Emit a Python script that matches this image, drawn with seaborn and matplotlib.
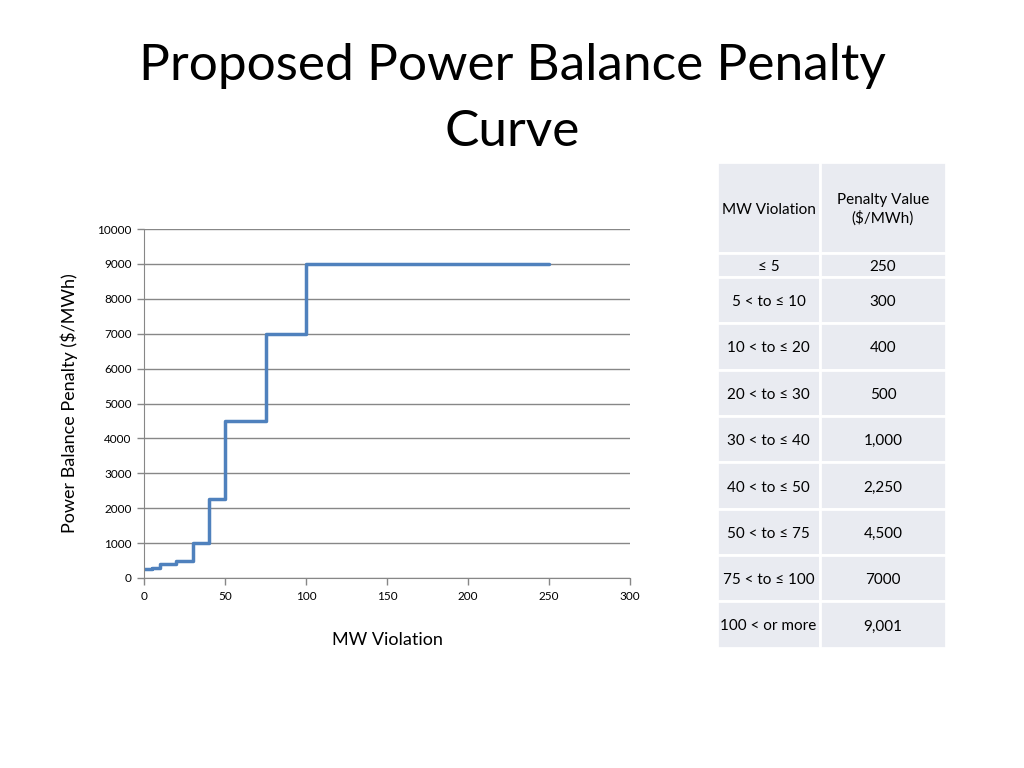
import matplotlib
matplotlib.use("Agg")
import matplotlib.pyplot as plt
import seaborn as sns
import pandas as pd
from matplotlib.patches import Rectangle

# step curve data
mw_points = [0, 5, 10, 20, 30, 40, 50, 75, 100, 250]
penalty_points = [250, 300, 400, 500, 1000, 2250, 4500, 7000, 9000, 9000]

# table contents
table_header = ["MW Violation", "Penalty Value\n($/MWh)"]
table_ranges = ["≤ 5", "5 < to ≤ 10", "10 < to ≤ 20", "20 < to ≤ 30", "30 < to ≤ 40",
                "40 < to ≤ 50", "50 < to ≤ 75", "75 < to ≤ 100", "100 < or more"]
table_values = ["250", "300", "400", "500", "1,000", "2,250", "4,500", "7000", "9,001"]

sns.set_style("white")
plt.rcParams['font.family'] = ['Lato', 'DejaVu Sans']
plt.rcParams['text.color'] = 'black'
plt.rcParams['axes.labelcolor'] = 'black'
plt.rcParams['xtick.color'] = 'black'
plt.rcParams['ytick.color'] = 'black'

df = pd.DataFrame({"mw": mw_points, "penalty": penalty_points})

fig = plt.figure(figsize=(10.24, 7.68), dpi=100)
ax = fig.add_axes([144 / 1024, 1 - 578 / 768, 486 / 1024, 349 / 768])

sns.lineplot(data=df, x="mw", y="penalty", ax=ax, drawstyle="steps-post",
             color="#4F81BD", linewidth=2.5)

ax.set_xlim(0, 300)
ax.set_ylim(0, 10000)
ax.set_xticks(range(0, 301, 50))
ax.set_yticks(range(0, 10001, 1000))
ax.yaxis.grid(True, color="#878787", linewidth=1)
ax.xaxis.grid(False)
for side in ["top", "right"]:
    ax.spines[side].set_visible(False)
for side in ["left", "bottom"]:
    ax.spines[side].set_color("#878787")
ax.tick_params(axis="both", labelsize=8.5, length=5, width=1, color="#878787",
               direction="out", left=True, bottom=True, pad=4)
ax.set_xlabel("MW Violation", fontsize=13, labelpad=22)
ax.set_ylabel("Power Balance Penalty ($/MWh)", fontsize=13, labelpad=14)

fig.text(0.5, 1 - 66 / 768, "Proposed Power Balance Penalty", ha="center", va="center",
         fontsize=37)
fig.text(0.5, 1 - 132 / 768, "Curve", ha="center", va="center", fontsize=37)

# table drawn on an overlay axes in pixel units
tax = fig.add_axes([0, 0, 1, 1])
tax.set_xlim(0, 1024)
tax.set_ylim(768, 0)
tax.axis("off")

row_edges = [162, 253, 277, 323, 370, 416, 462, 509, 555, 601, 648]
col_edges = [717, 820, 946]
rows = [table_header] + [[r, v] for r, v in zip(table_ranges, table_values)]
for i, row in enumerate(rows):
    y0, y1 = row_edges[i], row_edges[i + 1]
    for j, txt in enumerate(row):
        x0, x1 = col_edges[j], col_edges[j + 1]
        tax.add_patch(Rectangle((x0, y0), x1 - x0, y1 - y0, facecolor="#E9EBF1",
                                edgecolor="white", linewidth=2))
        tax.text((x0 + x1) / 2, (y0 + y1) / 2 + 2, txt, ha="center", va="center",
                 fontsize=11, linespacing=1.3)

fig.savefig("out.png", dpi=100)
